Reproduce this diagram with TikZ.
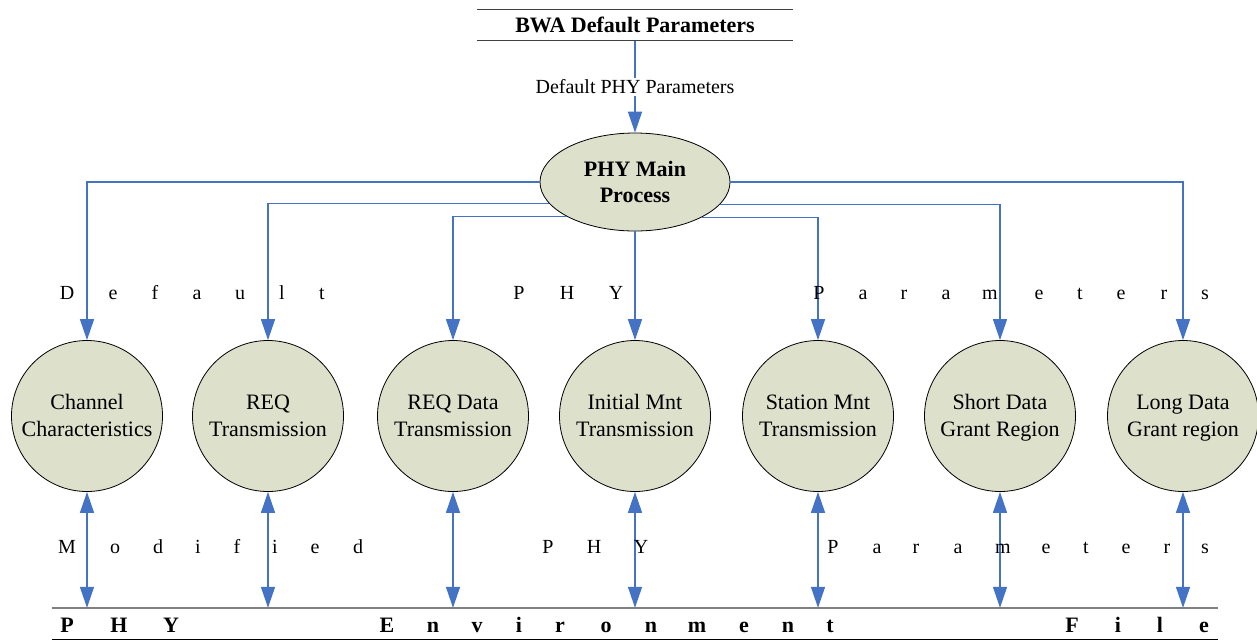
\documentclass[tikz,border=0pt]{standalone}
\usepackage{fontspec}
\setmainfont{Liberation Serif}
\usetikzlibrary{arrows.meta,shapes.geometric}
\definecolor{lblue}{RGB}{68,114,196}
\definecolor{procfill}{RGB}{221,224,203}
\newcommand\cTop{\rule{0pt}{19.5pt}}
\newcommand\cBot{\vphantom{g}}
\begin{document}
\begin{tikzpicture}[x=1pt,y=-1pt,
 proc/.style={circle,draw=black,line width=0.8pt,fill=procfill,minimum size=151pt,inner sep=0pt,align=center,font=\fontsize{22}{27}\selectfont},
 mainproc/.style={ellipse,draw=black,line width=0.8pt,fill=procfill,minimum width=190pt,minimum height=98pt,inner sep=0pt,align=center,font=\fontsize{22}{26}\bfseries\selectfont},
 flow/.style={draw=lblue,line width=1.4pt,-{Triangle[length=21pt,width=14pt]}},
 biflow/.style={draw=lblue,line width=1.4pt,{Triangle[length=21pt,width=14pt]}-{Triangle[length=21pt,width=14pt]}},
 lbl/.style={font=\fontsize{20}{24}\selectfont},
 spc/.style={font=\fontsize{20}{24}\selectfont,anchor=base,inner sep=0pt},
 spcb/.style={font=\fontsize{22}{26}\bfseries\selectfont,anchor=base,inner sep=0pt},
 store/.style={inner sep=0pt,font=\fontsize{22}{26}\bfseries\selectfont}
]
\useasboundingbox (0,0) rectangle (1257,641);
\fill[white] (0,0) rectangle (1257,641);

% data stores
\node[store,minimum width=316pt,minimum height=31pt] (bwa) at (635,25) {BWA Default Parameters};
\draw[black!75,line width=1pt] (bwa.north west) -- (bwa.north east);
\draw[black!75,line width=1pt] (bwa.south west) -- (bwa.south east);

\node[store,minimum width=1166pt,minimum height=31pt] (env) at (635,623.5) {};
\draw[black!50,line width=1.6pt] (env.north west) -- (env.north east);
\draw[black,line width=1pt] (env.south west) -- (env.south east);

% processes
\node[mainproc] (main) at (635,182) {PHY Main\\Process};
\node[proc] (c1) at (87,416) {\cTop Channel\\Characteristics\cBot};
\node[proc] (c2) at (268,416) {\cTop REQ\\Transmission\cBot};
\node[proc] (c3) at (453,416) {\cTop REQ Data\\Transmission\cBot};
\node[proc] (c4) at (635,416) {\cTop Initial Mnt\\Transmission\cBot};
\node[proc] (c5) at (818,416) {\cTop Station Mnt\\Transmission\cBot};
\node[proc] (c6) at (1000,416) {\cTop Short Data\\Grant Region\cBot};
\node[proc] (c7) at (1183,416) {\cTop Long Data\\Grant region\cBot};

% flows
\draw[flow] (bwa.south) -- node[lbl,fill=white,inner sep=2pt]{Default PHY Parameters} (main.north);
\draw[flow] (main.west) -| (c1.north);
\draw[flow] (main.east) -| (c7.north);
\draw[flow] (main.194.5) -| (c2.north);
\draw[flow] (main.345.5) -| (c6.north);
\draw[flow] (main.207.8) -| (c3.north);
\draw[flow] (main.332.2) -| (c5.north);
\draw[flow] (main.south) -- (c4.north);

\foreach \c in {c1,c2,c3,c4,c5,c6,c7}
  \draw[biflow] (\c.south) -- (\c.south |- env.north);

% spaced labels
\foreach \ch/\x [count=\i] in {D/67,e/113,f/155,a/197,u/240,l/282,t/322,P/519,H/567,Y/616,P/819,a/863,r/904,a/946,m/990,e/1039,t/1080,e/1121,r/1164,s/1205}
  \node[spc] (ta\i) at (\x,299) {\ch};
\foreach \ch/\x [count=\i] in {M/67,o/115,d/158,i/198,f/237,i/275,e/315,d/358,P/548,H/594,Y/641,P/833,a/877,r/916,a/958,m/1003,e/1046,t/1086,e/1126,r/1167,s/1205}
  \node[spc] (tb\i) at (\x,553) {\ch};
\foreach \ch/\x [count=\i] in {P/67,H/119,Y/171,E/387,n/433,v/477,i/519,r/560,o/606,n/651,m/697,e/744,n/788,t/830,F/1072,i/1118,l/1160,e/1204}
  \node[spcb] (tc\i) at (\x,632) {\ch};
\end{tikzpicture}
\end{document}
